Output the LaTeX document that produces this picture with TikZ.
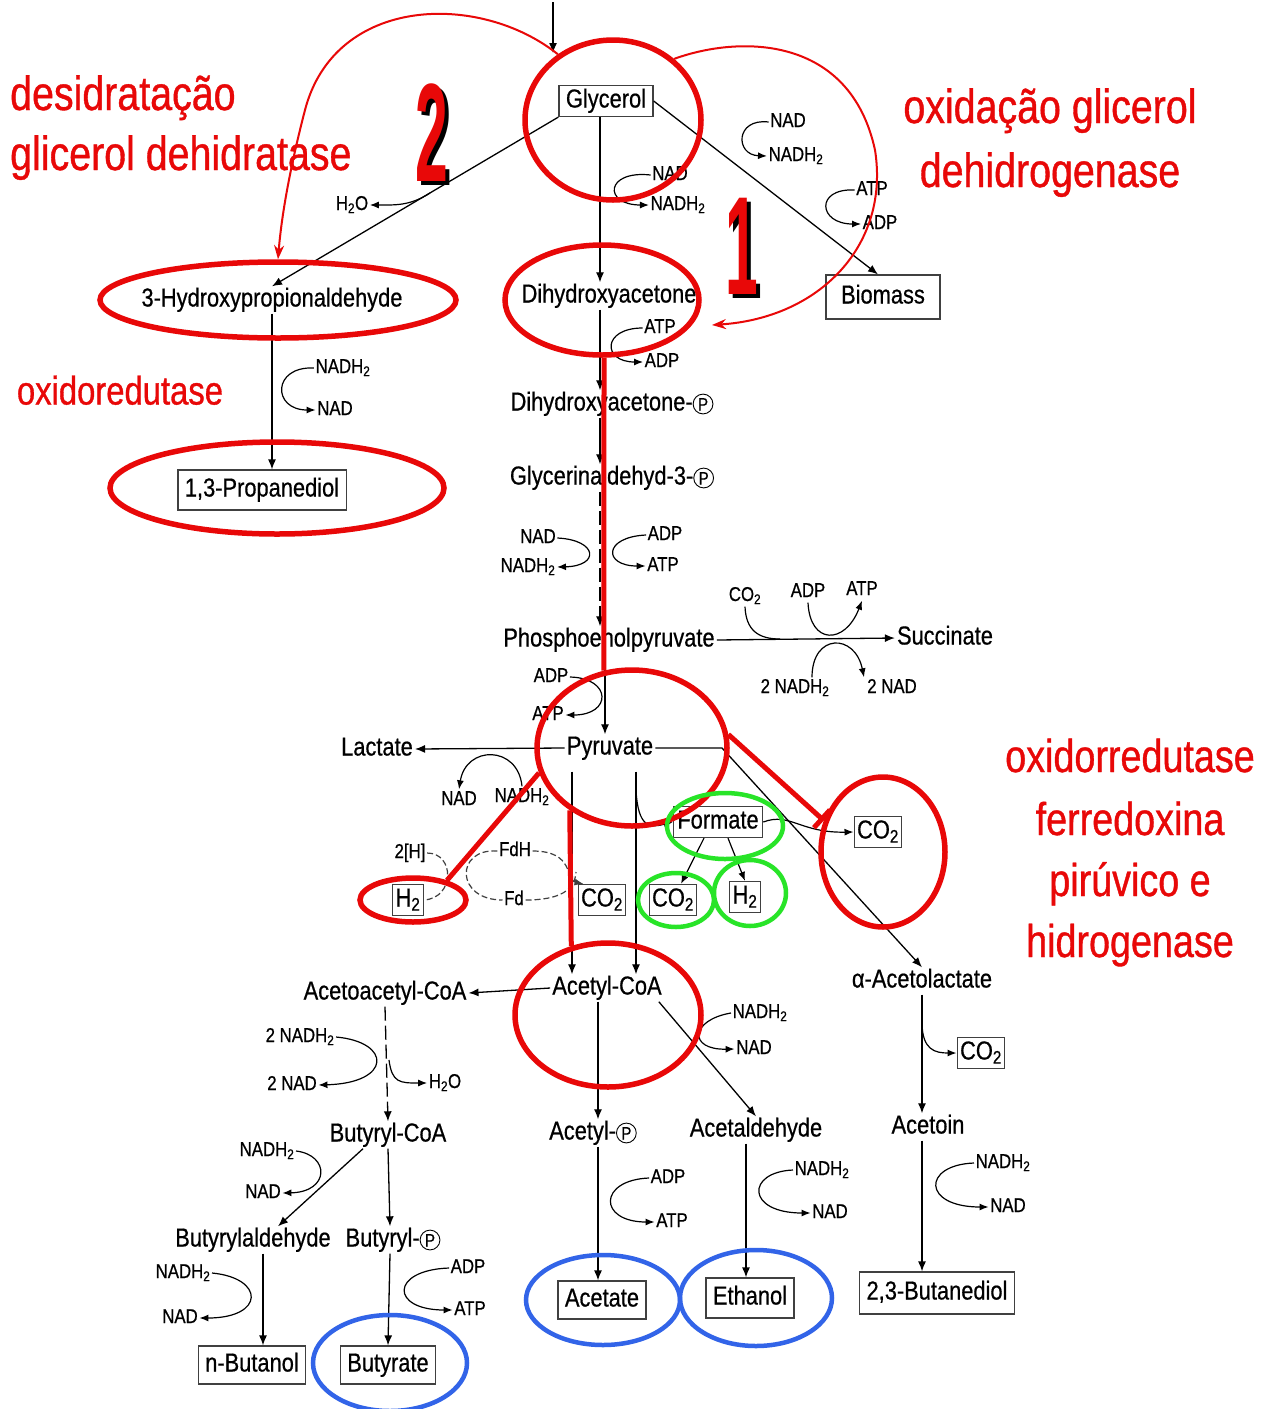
\documentclass[tikz,border=0pt]{standalone}
\usepackage{fontspec}
\usetikzlibrary{arrows.meta,shapes.geometric,calc}
\newfontfamily\bfam[FakeStretch=0.84,FakeBold=0.6]{Liberation Sans}
\newfontfamily\rfam[FakeStretch=0.82,FakeBold=0.8]{Liberation Sans}
\newfontfamily\dfam[FakeStretch=0.42]{Liberation Sans}
\newcommand\bigf{\bfam\fontsize{26}{28}\selectfont}
\newcommand\smf{\bfam\fontsize{20}{22}\selectfont}
\newcommand\redf{\rfam\fontsize{48}{54}\selectfont}
\newcommand\redmf{\rfam\fontsize{46}{52}\selectfont}
\newcommand\redsf{\rfam\fontsize{40}{46}\selectfont}
\newcommand\digf{\dfam\bfseries\fontsize{140}{140}\selectfont}
\newcommand\two{\textsubscript{2}}
\newcommand\cP{\tikz[baseline=(cp.base)]\node[draw,circle,inner sep=1.2pt,line width=0.9pt,text height=13pt,text depth=0pt,font=\bfam\fontsize{18}{18}\selectfont](cp){P};}
\newcommand\shadowdig[1]{\makebox[0pt][l]{\kern4pt\raisebox{-4pt}{\color{black}#1}}{\color{rd}#1}}
\definecolor{rd}{RGB}{232,8,8}
\definecolor{gr}{RGB}{40,228,40}
\definecolor{bl}{RGB}{50,100,232}
\tikzset{
 lab/.style={font=\bigf, inner sep=2pt, text height=18pt, text depth=5pt},
 sm/.style={font=\smf, inner sep=1.5pt, text height=14pt, text depth=4pt},
 bx/.style={lab, draw=black!75, line width=1.2pt, inner xsep=7pt, inner ysep=4pt},
 arr/.style={line width=1.3pt, -{Latex[length=10pt,width=8pt]}},
 ln/.style={line width=1.2pt},
 dsh/.style={line width=1.2pt, draw=black!75, dash pattern=on 6pt off 3pt},
 side/.style={line width=1.2pt, -{Latex[length=9pt,width=7pt]}},
 redE/.style={draw=rd, line width=5.5pt, ellipse, inner sep=0pt},
 grnE/.style={draw=gr, line width=4.5pt, ellipse, inner sep=0pt},
 bluE/.style={draw=bl, line width=4.5pt, ellipse, inner sep=0pt},
 redthick/.style={draw=rd, line width=5pt},
 redthin/.style={draw=rd, line width=2pt, -{Stealth[length=14pt,width=10pt]}},
 rtext/.style={font=\redf, text=rd, inner sep=0pt, text height=34pt, text depth=10pt},
}
\begin{document}
\begin{tikzpicture}[x=1pt,y=-1pt]
\fill[white] (0,0) rectangle (1273,1409);
\useasboundingbox (0,0) rectangle (1273,1409);

% ---------- red annotation texts ----------
\node[rtext,anchor=west] (t1) at (10,98) {desidratação};
\node[rtext,anchor=west] (t2) at (10,158) {glicerol dehidratase};
\node[rtext] (t3) at (1050,111) {oxidação glicerol};
\node[rtext] (t4) at (1050,175) {dehidrogenase};
\node[rtext,font=\redsf,text height=29pt,text depth=8pt] (t5) at (120,394) {oxidoredutase};
\node[rtext,font=\redmf] (t6) at (1130,760) {oxidorredutase};
\node[rtext,font=\redmf] (t7) at (1130,823) {ferredoxina};
\node[rtext,font=\redmf] (t8) at (1130,884) {pirúvico e};
\node[rtext,font=\redmf] (t9) at (1130,945) {hidrogenase};

\node[font=\digf,inner sep=0pt] (d2) at (432,135) {\shadowdig{2}};
\node[font=\digf,inner sep=0pt] (d1) at (742,248) {\shadowdig{1}};

% ---------- main compounds ----------
\node[bx] (gly) at (606,101) {Glycerol};
\node[lab] (hpa) at (272,300) {3-Hydroxypropionaldehyde};
\node[lab] (dha) at (609,296) {Dihydroxyacetone};
\node[bx,minimum width=114pt,minimum height=44pt] (bio) at (883,297) {Biomass};
\node[bx,minimum height=40pt] (pd) at (262,490) {1,3-Propanediol};
\node[lab] (dhap) at (612,404) {Dihydroxyacetone-\cP};
\node[lab] (g3p) at (612,478) {Glycerinaldehyd-3-\cP};
\node[lab] (pep) at (609,640) {Phosphoenolpyruvate};
\node[lab] (succ) at (945,638) {Succinate};
\node[lab] (pyr) at (610,748) {Pyruvate};
\node[lab] (lac) at (377,749) {Lactate};
\node[bx,inner xsep=3pt] (h2r) at (408,900) {H\two};
\node[bx,inner xsep=3pt] (co2a) at (602,900) {CO\two};
\node[bx,inner xsep=4pt] (for) at (718,822) {Formate};
\node[bx,inner xsep=3pt] (co2g) at (673,900) {CO\two};
\node[bx,inner xsep=3pt] (h2g) at (745,897) {H\two};
\node[bx,inner xsep=3pt] (co2r) at (878,832) {CO\two};
\node[lab] (acoa) at (607,988) {Acetyl-CoA};
\node[lab] (acac) at (385,993) {Acetoacetyl-CoA};
\node[lab] (al) at (922,981) {α-Acetolactate};
\node[bx,inner xsep=3pt] (co2al) at (981,1053) {CO\two};
\node[lab] (bcoa) at (388,1135) {Butyryl-CoA};
\node[lab] (acp) at (593,1133) {Acetyl-\cP};
\node[lab] (acal) at (756,1130) {Acetaldehyde};
\node[lab] (acetoin) at (928,1127) {Acetoin};
\node[lab] (bald) at (253,1240) {Butyrylaldehyde};
\node[lab] (bp) at (393,1240) {Butyryl-\cP};
\node[bx,minimum height=38pt] (acet) at (602,1300) {Acetate};
\node[bx,minimum height=40pt] (eth) at (750,1298) {Ethanol};
\node[bx,minimum height=42pt] (bd) at (937,1293) {2,3-Butanediol};
\node[bx,minimum height=38pt] (nbut) at (252,1365) {n-Butanol};
\node[bx,minimum height=38pt] (buty) at (388,1365) {Butyrate};

% ---------- cofactor labels ----------
\node[sm] (nad1) at (670,175) {NAD};
\node[sm] (nadh1) at (678,205) {NADH\two};
\node[sm] (nad2) at (788,122) {NAD};
\node[sm] (nadh2) at (796,156) {NADH\two};
\node[sm] (atp1) at (872,190) {ATP};
\node[sm] (adp1) at (880,224) {ADP};
\node[sm] (h2o1) at (352,205) {H\two O};
\node[sm] (atp2) at (660,328) {ATP};
\node[sm] (adp2) at (662,362) {ADP};
\node[sm] (nadh3) at (343,368) {NADH\two};
\node[sm] (nad3) at (335,410) {NAD};
\node[sm] (nad4) at (538,538) {NAD};
\node[sm] (nadh4) at (528,567) {NADH\two};
\node[sm] (adp4) at (665,535) {ADP};
\node[sm] (atp4) at (663,566) {ATP};
\node[sm] (co2s) at (745,596) {CO\two};
\node[sm] (adp5) at (808,592) {ADP};
\node[sm] (atp5) at (862,590) {ATP};
\node[sm] (nadh5) at (795,688) {2 NADH\two};
\node[sm] (nad5) at (892,688) {2 NAD};
\node[sm] (adp6) at (551,677) {ADP};
\node[sm] (atp6) at (548,715) {ATP};
\node[sm] (nad7) at (459,800) {NAD};
\node[sm] (nadh7) at (522,797) {NADH\two};
\node[sm] (h2lab) at (410,853) {2[H]};
\node[sm] (fdh) at (515,851) {FdH};
\node[sm] (fd) at (514,900) {Fd};
\node[sm] (nadh8) at (760,1013) {NADH\two};
\node[sm] (nad8) at (754,1049) {NAD};
\node[sm] (nadh9) at (300,1037) {2 NADH\two};
\node[sm] (nad9) at (292,1085) {2 NAD};
\node[sm] (h2o9) at (445,1083) {H\two O};
\node[sm] (nadh10) at (267,1151) {NADH\two};
\node[sm] (nad10) at (263,1193) {NAD};
\node[sm] (adp11) at (668,1178) {ADP};
\node[sm] (atp11) at (672,1222) {ATP};
\node[sm] (nadh12) at (822,1170) {NADH\two};
\node[sm] (nad12) at (830,1213) {NAD};
\node[sm] (nadh13) at (1003,1163) {NADH\two};
\node[sm] (nad13) at (1008,1207) {NAD};
\node[sm] (nadh14) at (183,1273) {NADH\two};
\node[sm] (nad14) at (180,1318) {NAD};
\node[sm] (adp15) at (468,1268) {ADP};
\node[sm] (atp15) at (470,1310) {ATP};

% ---------- main pathway arrows ----------
\coordinate (topin) at (553,2);
\coordinate (topout) at (553,53);
\draw[arr] (topin) -- (topout);
\draw[arr] (gly.south west) -- (hpa.north);
\draw[arr] ([xshift=-6pt]gly.south) -- ([xshift=-9pt]dha.north);
\draw[arr] (gly.east) -- ([xshift=-5pt]bio.north);
\draw[arr] (hpa.south) -- ([xshift=10pt]pd.north);
\draw[arr] ([xshift=-9pt]dha.south) -- ([xshift=-12pt]dhap.north);
\draw[arr] ([xshift=-12pt]dhap.south) -- ([xshift=-12pt]g3p.north);
\draw[arr,dash pattern=on 14pt off 5pt] ([xshift=-12pt]g3p.south) -- ([xshift=-9pt]pep.north);
\draw[arr] ([xshift=-4pt]pep.south) -- ([xshift=-5pt]pyr.north);
\draw[arr] (pep.east) -- (succ.west);
\draw[arr] (pyr.west) -- (lac.east);
\coordinate (pbend) at (722,748);
\draw[arr] (pyr.east) -- (pbend) -- (al.north);
\draw[arr] ([xshift=-38pt,yshift=-10pt]pyr.south) -- ([xshift=-35pt]acoa.north);
\draw[arr] ([xshift=26pt,yshift=-10pt]pyr.south) -- ([xshift=29pt]acoa.north);
\draw[arr] (acoa.west) -- (acac.east);
\draw[arr] ([xshift=-9pt]acoa.south) -- ([xshift=5pt]acp.north);
\draw[arr] ([xshift=-5pt]acoa.south east) -- (acal.north);
\draw[arr] ([xshift=5pt]acp.south) -- ([xshift=-4pt]acet.north);
\draw[arr] ([xshift=-10pt]acal.south) -- ([xshift=-4pt]eth.north);
\draw[arr] (al.south) -- ([xshift=-6pt]acetoin.north);
\draw[arr] ([xshift=-6pt]acetoin.south) -- ([xshift=-15pt]bd.north);
\draw[arr,dash pattern=on 14pt off 5pt] (acac.south) -- (bcoa.north);
\draw[arr] (bcoa.south) -- ([xshift=-3pt]bp.north);
\draw[arr] ([xshift=-25pt]bcoa.south) -- ([xshift=25pt]bald.north);
\draw[arr] ([xshift=10pt]bald.south) -- ([xshift=11pt]nbut.north);
\draw[arr] ([xshift=-3pt]bp.south) -- (buty.north);

% ---------- side reactions ----------
\coordinate (h2oS) at (430,193);
\draw[side] (h2oS) .. controls (410,206) and (395,205) .. (h2o1.east);
\draw[side] (nad1.west) .. controls (605,170) and (603,205) .. (nadh1.west);
\draw[side] (nad2.west) .. controls (735,118) and (735,155) .. (nadh2.west);
\draw[side] (atp1.west) .. controls (815,188) and (818,224) .. (adp1.west);
\draw[side] (atp2.west) .. controls (602,328) and (602,362) .. (adp2.west);
\draw[side] (nadh3.west) .. controls (272,366) and (272,410) .. (nad3.west);
\draw[side] (nad4.east) .. controls (598,540) and (600,566) .. (nadh4.east);
\draw[side] (adp4.west) .. controls (603,537) and (603,566) .. (atp4.west);
\draw[side] (adp6.east) .. controls (612,678) and (612,715) .. (atp6.east);
\coordinate (sucC) at (780,639);
\draw[ln] (co2s.south) .. controls (746,630) and (758,639) .. (sucC);
\draw[side] (adp5.south) .. controls (810,645) and (845,645) .. (atp5.south);
\draw[side] ([xshift=17pt]nadh5.north) .. controls (812,633) and (855,633) .. ([xshift=-28pt]nad5.north);
\draw[side] (nadh7.north) .. controls (518,745) and (466,745) .. (nad7.north);
\draw[dsh] (h2lab.east) .. controls (455,853) and (455,898) .. (h2r.east);
\draw[dsh] (fdh.west) .. controls (455,848) and (455,900) .. (fd.west);
\draw[dsh,side] (fdh.east) .. controls (575,851) and (565,880) .. ([xshift=6pt]co2a.north west);
\coordinate (fdE) at (576,872);
\draw[dsh] (fd.east) .. controls (560,900) and (575,890) .. (fdE);
\coordinate (forS) at (636,790);
\draw[side] (forS) .. controls (638,828) and (650,828) .. (for.west);
\draw[side] (for.east) .. controls (790,812) and (800,833) .. (co2r.west);
\draw[side] ([xshift=-14pt]for.south) -- ([xshift=8pt]co2g.north);
\draw[side] ([xshift=10pt]for.south) -- (h2g.north);
\draw[side] (nadh8.west) .. controls (690,1020) and (688,1050) .. (nad8.west);
\draw[side] (nadh9.east) .. controls (392,1042) and (392,1083) .. (nad9.east);
\coordinate (h2oS9) at (389,1060);
\draw[side] (h2oS9) .. controls (392,1083) and (400,1083) .. (h2o9.west);
\draw[side] (nadh10.east) .. controls (330,1155) and (330,1192) .. (nad10.east);
\draw[side] (nadh14.east) .. controls (265,1278) and (265,1318) .. (nad14.east);
\draw[side] (adp15.west) .. controls (390,1270) and (390,1310) .. (atp15.west);
\draw[side] (adp11.west) .. controls (598,1180) and (598,1222) .. (atp11.west);
\draw[side] (nadh12.west) .. controls (746,1172) and (746,1213) .. (nad12.west);
\draw[side] (nadh13.west) .. controls (922,1165) and (922,1207) .. (nad13.west);
\coordinate (alS) at (922,1022);
\draw[side] (alS) .. controls (922,1050) and (935,1053) .. (co2al.west);

% ---------- coloured ellipses ----------
\node[redE,minimum width=176pt,minimum height=160pt] (eGly) at (613,120) {};
\node[redE,minimum width=356pt,minimum height=76pt] (eHPA) at (278,300) {};
\node[redE,minimum width=194pt,minimum height=110pt] (eDHA) at (602,300) {};
\node[redE,minimum width=334pt,minimum height=92pt] (ePD) at (277,488) {};
\node[redE,minimum width=190pt,minimum height=156pt] (ePyr) at (632,748) {};
\node[redE,minimum width=106pt,minimum height=44pt] (eH2r) at (413,900) {};
\node[redE,minimum width=124pt,minimum height=150pt] (eCO2) at (883,852) {};
\node[redE,minimum width=186pt,minimum height=144pt] (eAc) at (608,1015) {};
\node[grnE,minimum width=116pt,minimum height=66pt] (eFor) at (725,826) {};
\node[grnE,minimum width=76pt,minimum height=54pt] (eCO2g) at (676,900) {};
\node[grnE,minimum width=72pt,minimum height=66pt] (eH2g) at (750,893) {};
\node[bluE,minimum width=154pt,minimum height=90pt] (eAcet) at (603,1300) {};
\node[bluE,minimum width=152pt,minimum height=96pt] (eEth) at (756,1298) {};
\node[bluE,minimum width=154pt,minimum height=96pt] (eBut) at (390,1363) {};

% ---------- red connectors ----------
\draw[redthick] (eDHA.-88) -- (ePyr.110);
\draw[redthick] (ePyr.195) -- (eH2r.30);
\draw[redthick] (ePyr.225) -- (eAc.118);
\draw[redthick,-{Bar[width=24pt]}] (ePyr.8) -- (eCO2.152);
\draw[redthin] (eGly.130) .. controls (480,-8) and (335,-5) .. (305,110) .. controls (292,160) and (282,210) .. (eHPA.north);
\coordinate (dhatip) at (712,325);
\draw[redthin] (eGly.45) .. controls (740,35) and (850,35) .. (875,150) .. controls (890,245) and (820,318) .. (dhatip);
\end{tikzpicture}
\end{document}
